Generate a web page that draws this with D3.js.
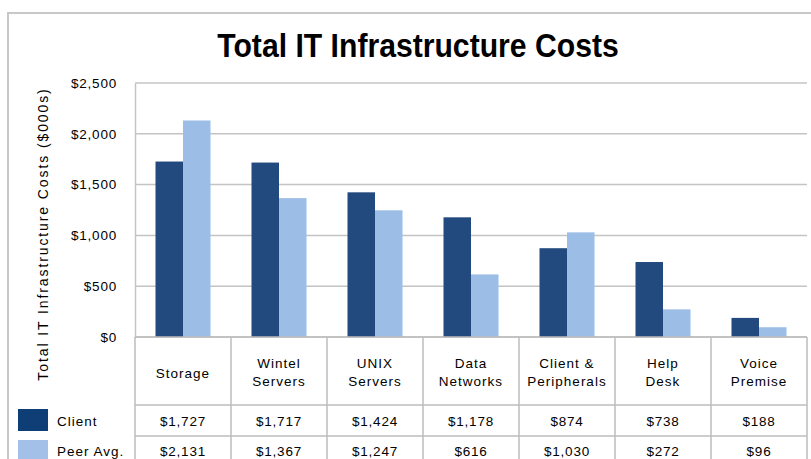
<!DOCTYPE html>
<html>
<head>
<meta charset="utf-8">
<script src="https://cdn.jsdelivr.net/npm/d3@7"></script>
<style>
  body { margin: 0; background: #fff; }
  svg text { font-family: "Liberation Sans", Arial, sans-serif; fill: #000; }
</style>
</head>
<body>
<svg id="chart" width="811" height="459"></svg>
<script>
// chart data
var categories = [["Storage"], ["Wintel", "Servers"], ["UNIX", "Servers"], ["Data", "Networks"],
                  ["Client &", "Peripherals"], ["Help", "Desk"], ["Voice", "Premise"]];
var clientValues = [1727, 1717, 1424, 1178, 874, 738, 188];
var peerValues = [2131, 1367, 1247, 616, 1030, 272, 96];
var seriesNames = ["Client", "Peer Avg."];
var yTicks = [0, 500, 1000, 1500, 2000, 2500];

var svg = d3.select("#chart");
var plotLeft = 135, plotRight = 807, plotTop = 83, plotBottom = 337;
var rowTop = 337, rowClient = 405, rowPeer = 436, rowEnd = 470;
var colors = ["#234a7e", "#9bbde6"];
var swatchColors = ["#0f3e76", "#a3c0e8"];

var fmt = function(v) { return "$" + d3.format(",")(v); };

// outer frame
svg.append("path")
    .attr("d", "M8,470 L8,13 L811,13")
    .attr("fill", "none")
    .attr("stroke", "#c8c8c8")
    .attr("stroke-width", 2);

svg.append("text")
    .attr("transform", "translate(418,57) scale(1.04,1.12)")
    .attr("text-anchor", "middle")
    .style("font-weight", "bold")
    .style("font-size", "29px")
    .text("Total IT Infrastructure Costs");

var keys = categories.map(function(c) { return c.join(" "); });

var x = d3.scaleBand().domain(keys).range([plotLeft, plotRight]).padding(0);
var sub = d3.scaleBand().domain([0, 1]).range([0, 55]);
var y = d3.scaleLinear().domain([0, 2500]).range([plotBottom, plotTop]);

// gridlines
svg.append("g")
    .selectAll("line")
    .data(yTicks)
    .enter().append("line")
    .attr("x1", plotLeft)
    .attr("x2", plotRight)
    .attr("y1", function(d) { return y(d); })
    .attr("y2", function(d) { return y(d); })
    .attr("stroke", "#c4c4c4")
    .attr("stroke-width", 1.5);

var yAxis = svg.append("g")
    .attr("transform", "translate(" + plotLeft + ",0)")
    .call(d3.axisLeft(y).tickValues(yTicks).tickFormat(fmt).tickSize(0).tickPadding(18));
yAxis.select(".domain").attr("stroke", "#c4c4c4").attr("stroke-width", 1.5);
yAxis.selectAll("text")
    .style("font-size", "13.5px")
    .style("letter-spacing", "0.8px")
    .style("font-family", "'Liberation Sans', Arial, sans-serif")
    .attr("fill", "#000");

svg.append("text")
    .attr("transform", "translate(48,234) rotate(-90)")
    .attr("text-anchor", "middle")
    .style("font-size", "14px")
    .style("letter-spacing", "1.9px")
    .text("Total IT Infrastructure Costs ($000s)");

// bars
var series = [clientValues, peerValues];
series.forEach(function(vals, s) {
    svg.append("g")
        .selectAll("rect")
        .data(vals)
        .enter().append("rect")
        .attr("x", function(d, i) { return x(keys[i]) + (x.bandwidth() - 55) / 2 + sub(s); })
        .attr("y", function(d) { return y(d); })
        .attr("width", sub.bandwidth())
        .attr("height", function(d) { return plotBottom - y(d); })
        .attr("fill", colors[s]);
});

// data table
var grid = svg.append("g").attr("stroke", "#bdbdbd").attr("stroke-width", 1.5);
[rowTop, rowClient, rowPeer].forEach(function(ry) {
    grid.append("line").attr("x1", plotLeft).attr("x2", plotRight).attr("y1", ry).attr("y2", ry);
});
keys.concat([null]).forEach(function(k) {
    var cx = k === null ? plotRight : x(k);
    grid.append("line").attr("x1", cx).attr("x2", cx).attr("y1", rowTop).attr("y2", rowEnd);
});

var cat = svg.append("g");
categories.forEach(function(lines, i) {
    var cx = x(keys[i]) + x.bandwidth() / 2;
    var y0 = lines.length === 1 ? 378 : 368;
    lines.forEach(function(t, j) {
        cat.append("text")
            .attr("x", cx)
            .attr("y", y0 + j * 18)
            .attr("text-anchor", "middle")
            .style("font-size", "13.5px")
            .style("letter-spacing", "1px")
            .text(t);
    });
});

var rowsY = [426, 456];
series.forEach(function(vals, s) {
    svg.append("g")
        .selectAll("text")
        .data(vals)
        .enter().append("text")
        .attr("x", function(d, i) { return x(keys[i]) + x.bandwidth() / 2; })
        .attr("y", rowsY[s])
        .attr("text-anchor", "middle")
        .style("font-size", "13.5px")
        .style("letter-spacing", "0.8px")
        .text(fmt);

    svg.append("rect")
        .attr("x", 18)
        .attr("y", s === 0 ? 409 : 440)
        .attr("width", 30)
        .attr("height", 22)
        .attr("fill", swatchColors[s]);

    svg.append("text")
        .attr("x", 57)
        .attr("y", rowsY[s])
        .style("font-size", "13.5px")
        .style("letter-spacing", "1px")
        .text(seriesNames[s]);
});
</script>
</body>
</html>
